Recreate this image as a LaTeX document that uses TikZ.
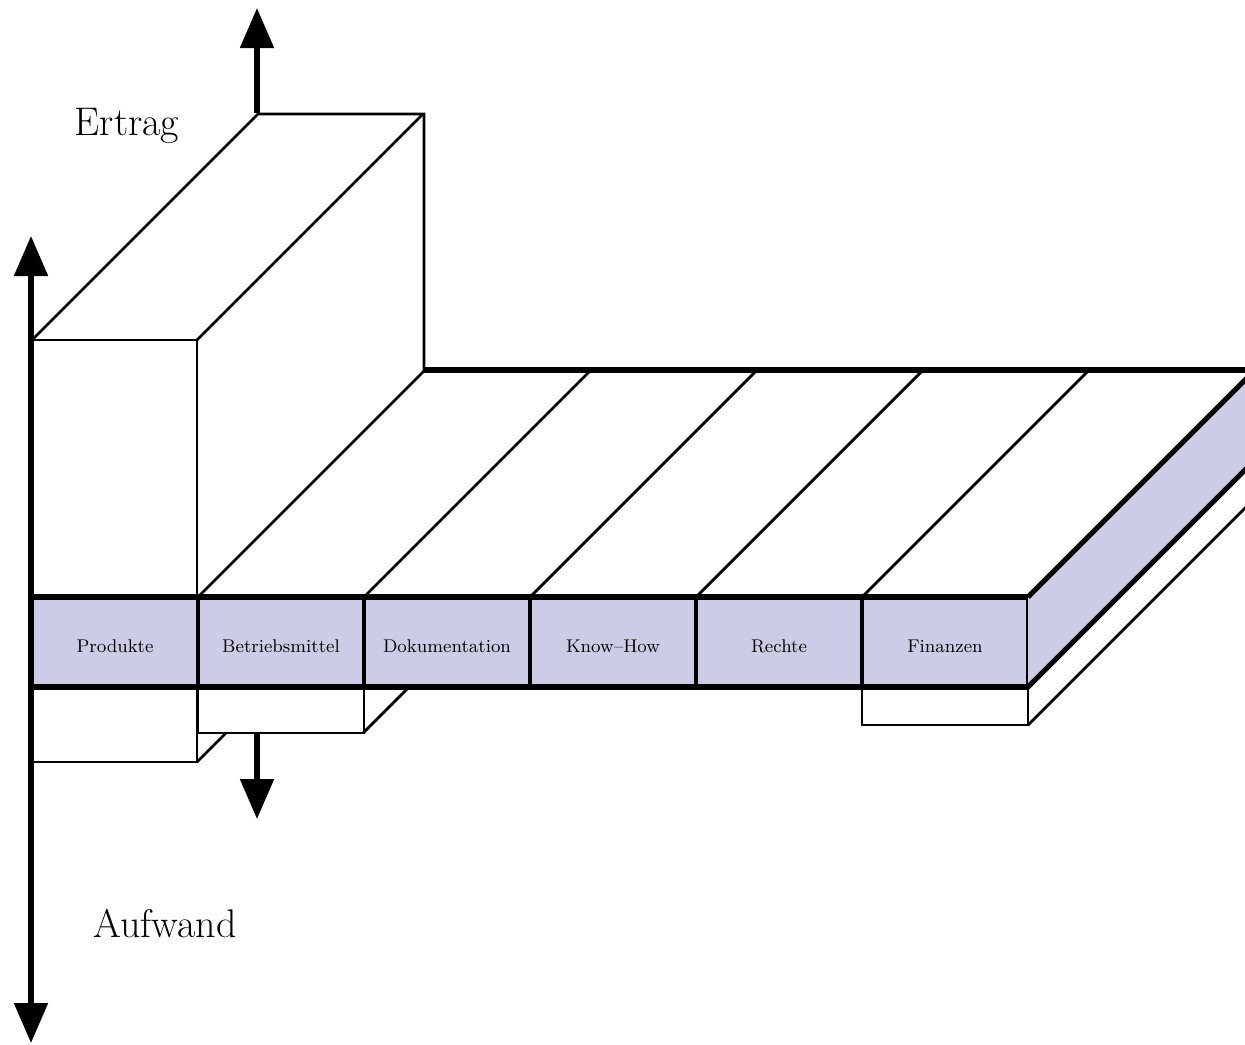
\documentclass[tikz,border=0pt]{standalone}
\usetikzlibrary{arrows.meta}

\definecolor{bandfill}{RGB}{204,204,230}

\tikzset{
  thin edge/.style={line width=1.4pt},
  thick edge/.style={line width=2.6pt},
  axis/.style={line width=2.6pt},
  cell/.style={draw, fill=bandfill, line width=2pt, minimum width=83pt, minimum height=45pt,
    inner sep=0pt, outer sep=0pt, anchor=north west, text height=10.6pt, text depth=0pt,
    font=\fontsize{9.2}{11}\selectfont},
  axis label/.style={anchor=base, inner sep=0pt, font=\fontsize{20}{24}\selectfont}
}

\begin{document}
\begin{tikzpicture}[x=0.5pt, y=-0.5pt, >={Triangle[length=20pt, width=16.5pt]}]
    \useasboundingbox (0,0) rectangle (1245,1044);
    \clip (0,0) rectangle (1245,1044);

    % Tall box above Produkte
    \draw[thin edge] (32,340) rectangle (197,597);
    \draw[thin edge] (32,340) -- ++(226,-226) -- ++(166,0) -- ++(0,257);
    \draw[thin edge] (197,340) -- ++(226,-226);

    % Front band (6 cells)
    \foreach \name [count=\i from 0] in {Produkte,Betriebsmittel,Dokumentation,Know--How,Rechte,Finanzen} {
        \node[cell] (c\i) at ({32+166*\i},597) {\name};
    }

    % Top face of the band
    \foreach \i in {1,...,5} {
        \draw[thin edge] (c\i.north west) -- ++(226,-226);
    }
    \draw[thick edge] (423,370) -- (1254,370);

    % Side face of the band
    \fill[bandfill] (c5.north east) -- ++(226,-226) -- ++(0,90) -- (c5.south east) -- cycle;
    \draw[thick edge] (c5.north east) -- ++(226,-226);
    \draw[thick edge] (c5.south east) -- ++(226,-226);

    % Boxes below the band
    \draw[thin edge] (c0.south west) rectangle ++(165,75);
    \draw[thin edge] (197,762) -- ++(29,-29);
    \draw[thin edge] (c1.south west) rectangle ++(166,46);
    \draw[thin edge] (363,733) -- ++(46,-46);
    \draw[thin edge] (c5.south west) rectangle ++(166,38);
    \draw[thin edge] (1028,725) -- ++(226,-226);

    % Band outline
    \draw[thick edge] (c0.north west) -- (c5.north east);
    \draw[thick edge] (c0.south west) -- (c5.south east);

    % Axes
    \coordinate (aufwand end) at (31,1043);
    \coordinate (ertrag end) at (31,236);
    \coordinate (box top) at (257,113);
    \coordinate (up end) at (257,8);
    \coordinate (box bottom) at (257,733);
    \coordinate (down end) at (257,819);
    \draw[axis, <->] (aufwand end) -- (ertrag end);
    \draw[axis, ->] (box top) -- (up end);
    \draw[axis, ->] (box bottom) -- (down end);

    % Labels
    \node[axis label] (ertrag) at (127,135) {Ertrag};
    \node[axis label] (aufwand) at (165,937) {Aufwand};
\end{tikzpicture}
\end{document}
